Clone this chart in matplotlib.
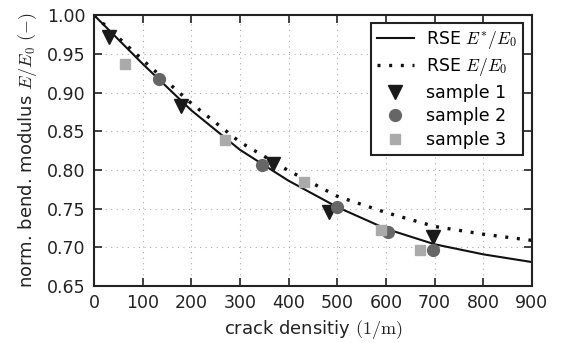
import matplotlib
matplotlib.use("Agg")
import matplotlib.pyplot as plt

plt.rcParams['mathtext.fontset'] = 'cm'
plt.rcParams['font.family'] = ['DejaVu Sans']

# model curves
rse_x = [0, 100, 200, 300, 400, 500, 600, 700, 800, 900]
rse_star = [1.0, 0.937, 0.877, 0.826, 0.786, 0.752, 0.724, 0.704, 0.691, 0.681]
rse_plain = [1.0, 0.942, 0.886, 0.836, 0.799, 0.766, 0.745, 0.727, 0.717, 0.709]

# measurements
s1_x = [30, 178, 368, 484, 697]
s1_y = [0.972, 0.883, 0.808, 0.746, 0.714]
s2_x = [133, 345, 500, 604, 697]
s2_y = [0.917, 0.806, 0.752, 0.720, 0.697]
s3_x = [63, 270, 432, 590, 670]
s3_y = [0.937, 0.839, 0.785, 0.723, 0.696]

fig = plt.figure(figsize=(5.61, 3.43), dpi=100)
ax = fig.add_axes([0.1676, 0.166, 0.7804, 0.790])

ax.plot(rse_x, rse_star, color='#111111', lw=1.5, label=r'RSE $E^{*}/E_0$')
ax.plot(rse_x, rse_plain, color='#111111', lw=2.4, ls=(0, (0.9, 2.6)), label=r'RSE $E/E_0$')
ax.plot(s1_x, s1_y, 'v', color='#1a1a1a', ms=10, ls='none', label='sample 1')
ax.plot(s2_x, s2_y, 'o', color='#666666', ms=8.5, ls='none', label='sample 2')
ax.plot(s3_x, s3_y, 's', color='#aaaaaa', ms=7, ls='none', label='sample 3')

ax.set_xlim(0, 900)
ax.set_ylim(0.65, 1.0)
ax.set_xticks(range(0, 901, 100))
ax.set_yticks([0.65, 0.70, 0.75, 0.80, 0.85, 0.90, 0.95, 1.00])
ax.yaxis.set_major_formatter(matplotlib.ticker.FormatStrFormatter('%.2f'))
ax.tick_params(direction='in', top=True, right=True, length=6, width=1.2,
               labelsize=12.5, colors='#222222', pad=6)
ax.grid(True, color='#aaaaaa', ls=(0, (1, 4)), lw=0.8)
for s in ax.spines.values():
    s.set_linewidth(1.5)
    s.set_color('#222222')

ax.set_xlabel(r'crack densitiy $(1/\mathrm{m})$', fontsize=13, color='#222222', labelpad=4)
ax.set_ylabel(r'norm. bend. modulus $E/E_0$ $(-)$', fontsize=13, color='#222222', labelpad=6)

leg = ax.legend(loc='upper right', fontsize=12.5, fancybox=False, framealpha=1,
                edgecolor='#222222', borderpad=0.35, labelspacing=0.32,
                handlelength=2.1, handletextpad=0.7, borderaxespad=0,
                bbox_to_anchor=(0.979, 0.972))
leg.get_frame().set_linewidth(1.5)

fig.savefig('out.png', dpi=100)
